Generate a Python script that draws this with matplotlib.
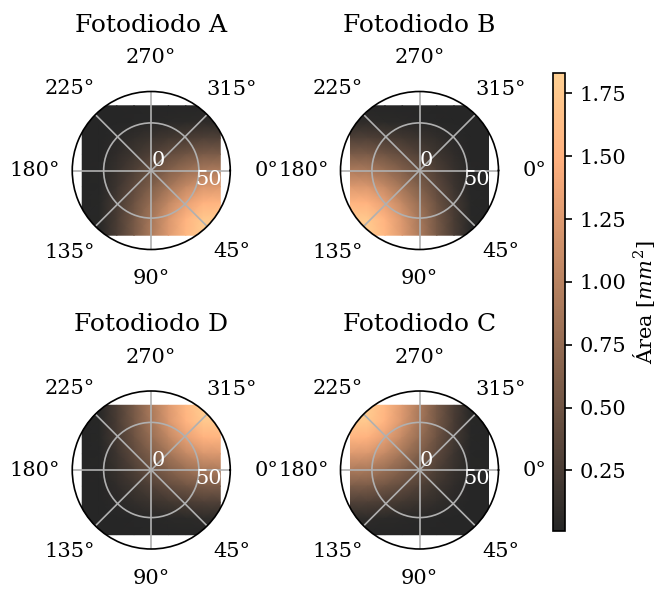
import numpy as np
import matplotlib
matplotlib.use("Agg")
import matplotlib.pyplot as plt
from matplotlib.colors import ListedColormap

plt.rcParams["font.family"] = "serif"
plt.rcParams["mathtext.fontset"] = "dejavuserif"

# Spot displacement grid (same units as the radial axis)
x_nodes = np.array([-72.5, -54.4, -36.25, -18.1, 0.0, 18.1, 36.25, 54.4, 72.5])
y_nodes = np.array([-68.0, -51.0, -34.0, -17.0, 0.0, 17.0, 34.0, 51.0, 68.0])

# Illuminated area of photodiode A [mm^2]; rows follow y_nodes, columns x_nodes
area_A = np.array([
    [0.01, 0.01, 0.01, 0.01, 0.01, 0.01, 0.01, 0.01, 0.01],
    [0.01, 0.01, 0.01, 0.02, 0.03, 0.04, 0.05, 0.06, 0.06],
    [0.01, 0.01, 0.04, 0.09, 0.15, 0.20, 0.25, 0.29, 0.29],
    [0.01, 0.01, 0.08, 0.18, 0.29, 0.41, 0.51, 0.58, 0.59],
    [0.01, 0.02, 0.13, 0.28, 0.46, 0.63, 0.79, 0.90, 0.92],
    [0.01, 0.02, 0.17, 0.39, 0.62, 0.85, 1.07, 1.22, 1.24],
    [0.01, 0.03, 0.22, 0.48, 0.77, 1.06, 1.32, 1.51, 1.54],
    [0.01, 0.03, 0.25, 0.55, 0.88, 1.22, 1.52, 1.74, 1.77],
    [0.01, 0.03, 0.26, 0.57, 0.92, 1.26, 1.57, 1.80, 1.83],
])

# The four quadrants of the detector are mirror images of A
diodes = {
    "Fotodiodo A": area_A,
    "Fotodiodo B": area_A[:, ::-1],
    "Fotodiodo D": area_A[::-1, :],
    "Fotodiodo C": area_A[::-1, ::-1],
}

r_max = 83
r_ticks = [0, 50]
area_min, area_max = 0.01, 1.83
cbar_ticks = [0.25, 0.50, 0.75, 1.00, 1.25, 1.50, 1.75]

# copper, slightly washed out towards white (opaque, so no seams between triangles)
base = plt.get_cmap("copper")(np.linspace(0, 1, 256))
fade = 0.85
base[:, :3] = base[:, :3] * fade + (1 - fade)
cmap = ListedColormap(base)

# angle label padding (points), tighter for the bottom/top labels
theta_label_pad = {0: 7.0, 45: 6.6, 90: 3.6, 135: 7.2, 180: 7.4, 225: 7.0, 270: 5.6, 315: 6.4}

X, Y = np.meshgrid(x_nodes, y_nodes)
theta = np.arctan2(Y, X)
radius = np.hypot(X, Y)

fig = plt.figure(figsize=(659 / 150, 591 / 150), dpi=150)

W, H = 659, 591
rad_px = 79
centers = [(151.25, 170.5), (419.5, 170.5), (151.25, 470.0), (419.5, 470.0)]

mesh = None
for (name, Z), (cx, cy) in zip(diodes.items(), centers):
    rect = [(cx - rad_px) / W, (H - cy - rad_px) / H, 2 * rad_px / W, 2 * rad_px / H]
    ax = fig.add_axes(rect, projection="polar")
    ax.set_theta_direction(-1)
    mesh = ax.pcolormesh(theta, radius, Z, shading="gouraud", cmap=cmap,
                         vmin=area_min, vmax=area_max, antialiased=False)
    ax.set_ylim(0, r_max)
    ax.set_rticks(r_ticks)
    ax.tick_params(axis="y", labelcolor="white")
    locs = ax.get_xticks()
    for tick, loc in zip(ax.xaxis.get_major_ticks(), locs):
        deg = int(round(np.rad2deg(loc))) % 360
        tick.set_pad(theta_label_pad.get(deg, 7.0))
    ax.set_title(name, pad=8)

cax = fig.add_axes([553.3 / W, (H - 530.7) / H, 11.7 / W, 457.4 / H])
cb = fig.colorbar(mesh, cax=cax, ticks=cbar_ticks)
cb.set_label(r"Área [$mm^2$]", labelpad=2)

fig.savefig("out.png", dpi=150)
